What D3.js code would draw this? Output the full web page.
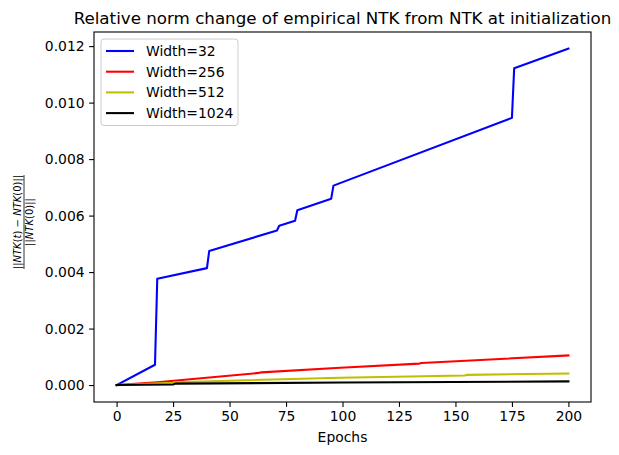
<!DOCTYPE html>
<html>
<head>
<meta charset="utf-8">
<script src="https://cdn.jsdelivr.net/npm/d3@7"></script>
<style>
  body { margin: 0; background: #fff; }
  text { font-family: "DejaVu Sans", sans-serif; }
</style>
</head>
<body>
<div id="chart"></div>
<script>
// values: [epoch, relative change]
var width32 = [[0,0],[17,0.00072],[18,0.00376],[40,0.00414],[41,0.00475],[71,0.00547],[72,0.00564],[79,0.00582],[80,0.00619],[95,0.0066],[96,0.00706],[175,0.00946],[176,0.01122],[200,0.01191]];
var width256 = [[0,0],[18,0.0001],[63,0.00043],[64,0.00045],[99,0.00061],[134,0.00076],[135,0.00078],[200,0.00105]];
var width512 = [[0,0],[25,0.00008],[26,0.0001],[99,0.00026],[154,0.00034],[155,0.00036],[200,0.00041]];
var width1024 = [[0,0],[25,0.00002],[26,0.00005],[100,0.00009],[200,0.00013]];

var seriesNames = ["Width=32", "Width=256", "Width=512", "Width=1024"];
var seriesColors = ["#0000ff", "#ff0000", "#bfbf00", "#000000"];
var allSeries = [width32, width256, width512, width1024];

var xTicks = [0, 25, 50, 75, 100, 125, 150, 175, 200];
var yTicks = [0, 0.002, 0.004, 0.006, 0.008, 0.010, 0.012];

var W = 619, H = 455;
var margin = {top: 32, right: 28, bottom: 53, left: 94},
    width = W - margin.left - margin.right,
    height = H - margin.top - margin.bottom;

var svg = d3.select("#chart")
  .append("svg")
    .attr("width", W)
    .attr("height", H);

var chart = svg.append("g")
  .attr("transform", "translate(" + margin.left + "," + margin.top + ")");

var x = d3.scaleLinear().domain([-10, 210]).range([0, width]);
var y = d3.scaleLinear().domain([-0.0006, 0.0125]).range([height, 0]);

// axes
var xAxis = chart.append("g")
  .attr("transform", "translate(0," + height + ")")
  .call(d3.axisBottom(x).tickValues(xTicks).tickSize(4.9).tickPadding(4.5).tickFormat(d3.format("d")));
var yAxis = chart.append("g")
  .call(d3.axisLeft(y).tickValues(yTicks).tickSize(4.9).tickPadding(4.5).tickFormat(d3.format(".3f")));

[xAxis, yAxis].forEach(a => {
  a.select(".domain").remove();
  a.selectAll("text").style("font-size", "13.9px").attr("fill", "#000")
    .style("font-family", "'DejaVu Sans', sans-serif");
  a.selectAll("line").attr("stroke", "#000").attr("stroke-width", 1.1);
});

// lines
var line = d3.line()
  .x(d => x(d[0]))
  .y(d => y(d[1]));

allSeries.forEach((s, i) => {
  chart.append("path")
    .datum(s)
    .attr("fill", "none")
    .attr("stroke", seriesColors[i])
    .attr("stroke-width", 2.08)
    .attr("stroke-linecap", "square")
    .attr("stroke-linejoin", "round")
    .attr("d", line);
});

// frame
chart.append("rect")
  .attr("width", width)
  .attr("height", height)
  .attr("fill", "none")
  .attr("stroke", "#000")
  .attr("stroke-width", 1.1);

// title
svg.append("text")
  .attr("x", margin.left + width / 2)
  .attr("y", 24)
  .attr("text-anchor", "middle")
  .style("font-size", "16.7px")
  .text("Relative norm change of empirical NTK from NTK at initialization");

// x label
svg.append("text")
  .attr("x", margin.left + width / 2)
  .attr("y", 442)
  .attr("text-anchor", "middle")
  .style("font-size", "13.9px")
  .text("Epochs");

// y label (fraction)
var yl = svg.append("g")
  .attr("transform", "translate(24,222) rotate(-90)");
function mathText(g, yPos) {
  var t = g.append("text")
    .attr("x", 0).attr("y", yPos)
    .attr("text-anchor", "middle")
    .style("font-size", "10px");
  return t;
}
var num = mathText(yl, -3.5);
num.append("tspan").text("||");
num.append("tspan").style("font-style", "italic").text("NTK");
num.append("tspan").text("(");
num.append("tspan").style("font-style", "italic").text("t");
num.append("tspan").text(") \u2212 ");
num.append("tspan").style("font-style", "italic").text("NTK");
num.append("tspan").text("(0)||");
var den = mathText(yl, 8.5);
den.append("tspan").text("||");
den.append("tspan").style("font-style", "italic").text("NTK");
den.append("tspan").text("(0)||");
yl.append("line")
  .attr("x1", -47).attr("x2", 47)
  .attr("y1", 0).attr("y2", 0)
  .attr("stroke", "#000").attr("stroke-width", 0.8);

// legend
var legend = chart.append("g")
  .attr("transform", "translate(7,7)");
legend.append("rect")
  .attr("width", 137)
  .attr("height", 86.5)
  .attr("rx", 3)
  .attr("fill", "#fff")
  .attr("fill-opacity", 0.8)
  .attr("stroke", "#ccc")
  .attr("stroke-width", 1);
seriesNames.forEach((name, i) => {
  var ry = 12 + i * 20.7;
  legend.append("line")
    .attr("x1", 5).attr("x2", 33)
    .attr("y1", ry).attr("y2", ry)
    .attr("stroke", seriesColors[i])
    .attr("stroke-width", 2.08);
  legend.append("text")
    .attr("x", 45)
    .attr("y", ry + 5)
    .style("font-size", "13.9px")
    .text(name);
});
</script>
</body>
</html>
